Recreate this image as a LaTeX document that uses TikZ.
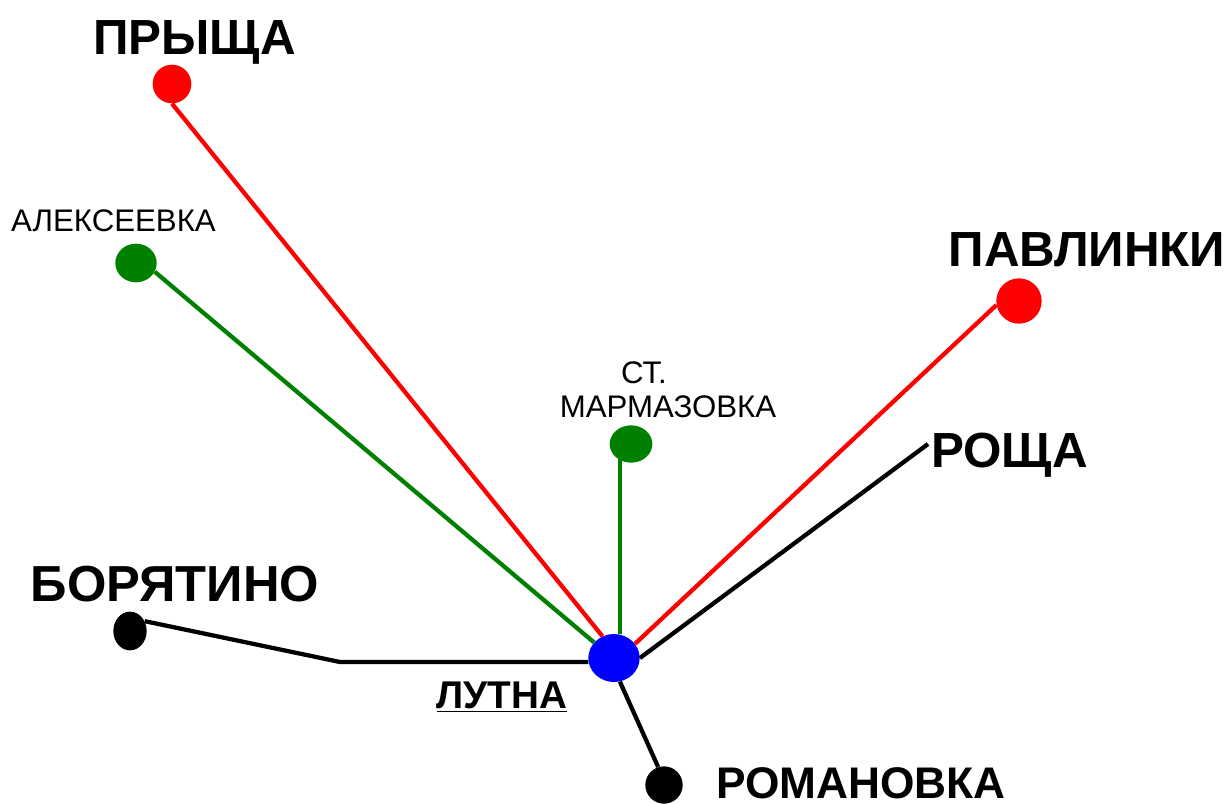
\documentclass[tikz,border=0pt]{standalone}
\usepackage{fontspec}
\setmainfont{Liberation Sans}
\usetikzlibrary{positioning,shapes.geometric}
\tikzset{
  stop/.style={ellipse,fill=#1,draw=none,inner sep=0pt},
  big/.style={font=\fontsize{37}{39}\selectfont\bfseries,inner sep=0pt},
  mid/.style={font=\fontsize{29}{31}\selectfont\bfseries,inner sep=0pt},
  small/.style={font=\fontsize{23.4}{25}\selectfont,inner sep=0pt},
  road/.style={line width=3.2pt},
}
\definecolor{stgreen}{RGB}{0,128,0}
\begin{document}
\begin{tikzpicture}[x=0.75pt,y=0.75pt,yscale=-1,xscale=1]
\useasboundingbox (0,0) rectangle (1230,803);
% stops
\node (lutna) [stop=blue,minimum width=38.5pt,minimum height=36pt] at (614,658) {};
\node (prysha) [stop=red,minimum size=29pt] at (172,84) {};
\node (aleks) [stop=stgreen,minimum width=31pt,minimum height=29pt] at (136,263) {};
\node (marm) [stop=stgreen,minimum width=32pt,minimum height=28pt] at (631,444) {};
\node (pavl) [stop=red,minimum size=34pt] at (1019,301) {};
\node (bor) [stop=black,minimum width=25pt,minimum height=29pt] at (130,631) {};
\node (rom) [stop=black,minimum size=28pt] at (664,785) {};
\coordinate (roscha) at (928,444);
\coordinate (bend) at (340,662);
% roads
\draw [road,red] (lutna.118) -- (prysha.south);
\draw [road,stgreen] (lutna.142) -- (aleks.-25);
\draw [road,stgreen] (lutna.76) -- (lutna.76 |- marm);
\draw [road,red] (lutna.34) -- (pavl.190);
\draw [road] (lutna.east) -- (roscha);
\draw [road] (lutna.189) -- (bend) -- (bor.34);
\draw [road] (lutna.-76) -- (rom.108);
% labels
\node (lprysha) [big] at (194.5,42) {ПРЫЩА};
\node (laleks) [small] at (113.5,221) {АЛЕКСЕЕВКА};
\node (lpavl) [big] at (1087,250) {ПАВЛИНКИ};
\node (lst) [small] at (644,373) {СТ.};
\node (lmarm) [small] at (668,407) {МАРМАЗОВКА};
\node (lroscha) [big] at (1009.5,455) {РОЩА};
\node (lbor) [big,font=\fontsize{38}{40}\selectfont\bfseries] at (175,584) {БОРЯТИНО};
\node (llutna) [mid] at (502,697) {\underline{ЛУТНА}};
\node (lrom) [big,font=\fontsize{33.2}{35}\selectfont\bfseries] at (861,783) {РОМАНОВКА};
\end{tikzpicture}
\end{document}
